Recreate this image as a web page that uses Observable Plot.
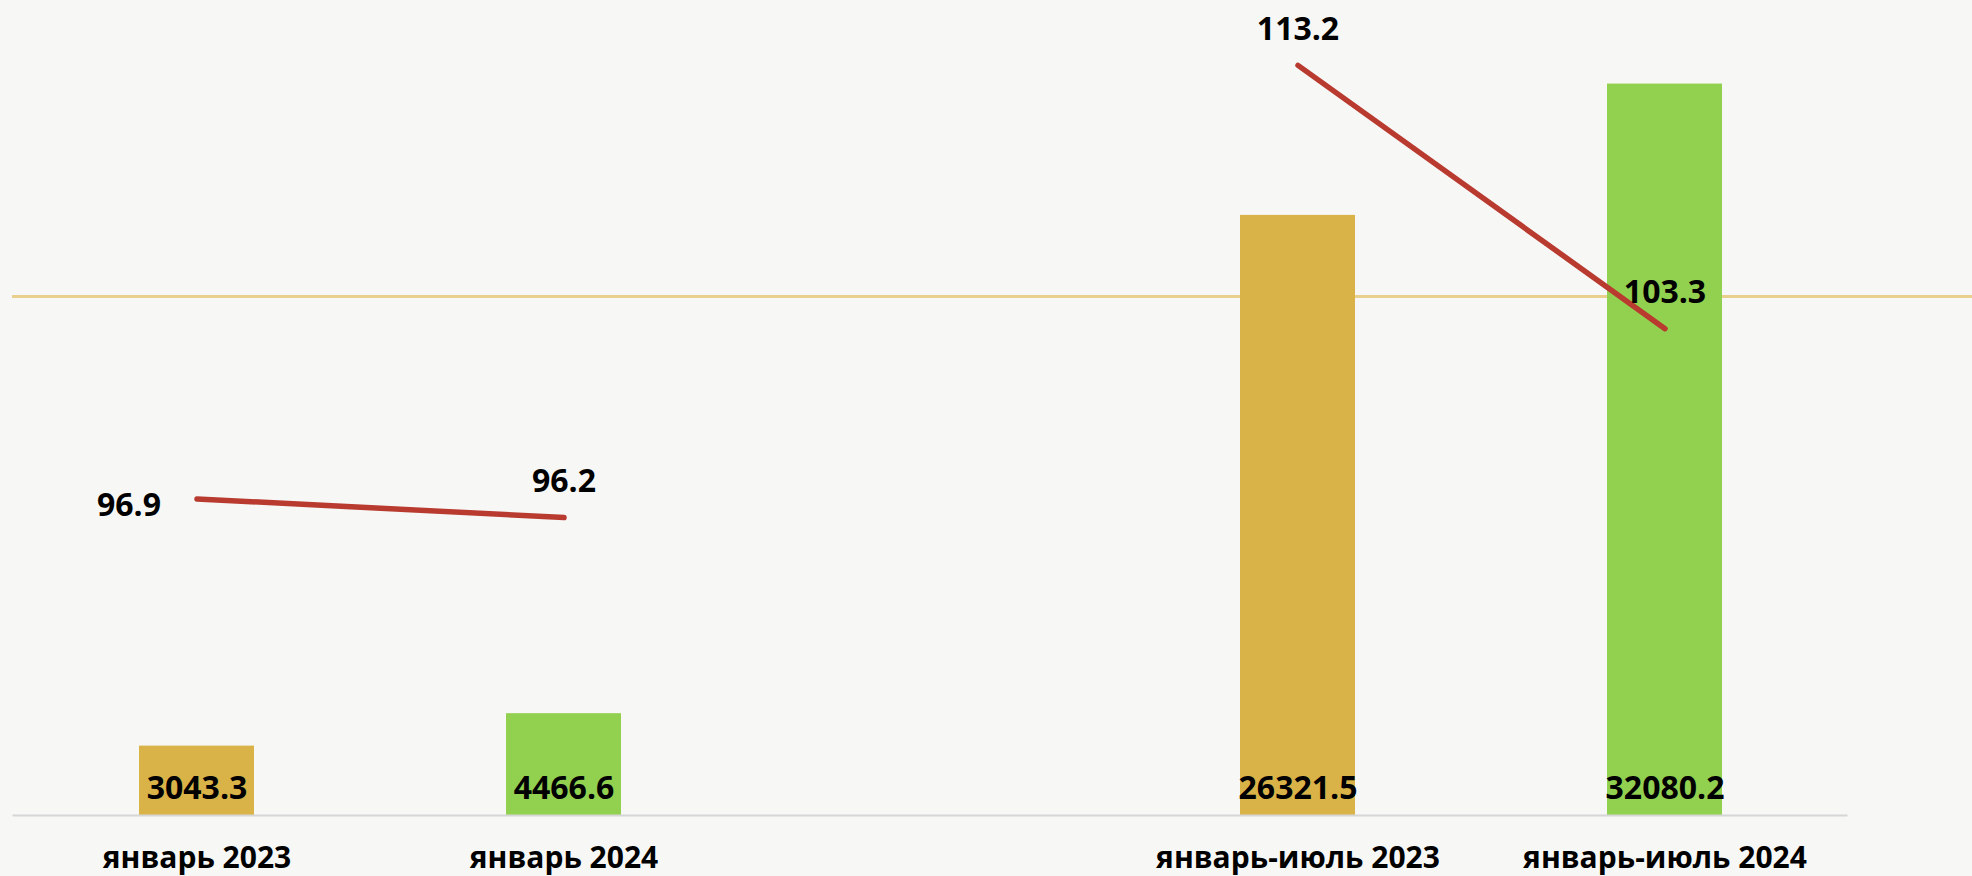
<!DOCTYPE html>
<html>
<head>
<meta charset="utf-8">
<script src="https://cdn.jsdelivr.net/npm/d3@7"></script>
<script src="https://cdn.jsdelivr.net/npm/@observablehq/plot@0.6"></script>
<style>
  html, body { margin: 0; padding: 0; background: #f7f7f6; }
  #wrap { position: relative; width: 1972px; height: 876px; overflow: hidden; }
  #deco { position: absolute; left: 12px; right: 0; top: 295px; height: 3px; background: #e9d08d; z-index: 0; }
  #chart { position: absolute; left: 0; top: 0; z-index: 1; }
</style>
</head>
<body>
<div id="wrap"><div id="deco"></div><div id="chart"></div></div>
<script>
// Categories (a blank spacer between the two groups)
const categories = ["январь 2023", "январь 2024", " ", "январь-июль 2023", "январь-июль 2024"];
const barCategories = ["январь 2023", "январь 2024", "январь-июль 2023", "январь-июль 2024"];
// Bar series (volume)
const barValues = [3043.3, 4466.6, 26321.5, 32080.2];
const barColors = ["#d9b348", "#92d050", "#d9b348", "#92d050"];
// Line series (index, %), on a secondary scale
const lineValues = [96.9, 96.2, 113.2, 103.3];
const lineGroups = ["jan", "jan", "janjul", "janjul"];
const lineLabelPos = ["left", "top", "top", "top"];

const primaryDomain = [0, 35000];
const secondaryDomain = [85, 115];
const toPrimary = v => (v - secondaryDomain[0]) / (secondaryDomain[1] - secondaryDomain[0]) * (primaryDomain[1] - primaryDomain[0]) + primaryDomain[0];

const bars = barCategories.map((c, i) => ({cat: c, value: barValues[i], color: barColors[i]}));
const lines = barCategories.map((c, i) => ({cat: c, value: lineValues[i], y: toPrimary(lineValues[i]), group: lineGroups[i], pos: lineLabelPos[i]}));

const font = "'Open Sans', 'DejaVu Sans', sans-serif";

const chart = Plot.plot({
  width: 1972,
  height: 876,
  marginTop: 17,
  marginBottom: 61,
  marginLeft: 12.5,
  marginRight: 124.5,
  style: {background: "transparent", fontFamily: font, color: "#000"},
  x: {domain: categories, padding: 0, axis: null},
  y: {domain: primaryDomain, axis: null},
  color: {type: "identity"},
  marks: [
    Plot.barY(bars, {x: "cat", y: "value", fill: "color", insetLeft: 126, insetRight: 126}),
    Plot.ruleY([0], {stroke: "#d6d6d6", strokeWidth: 2}),
    Plot.axisX({tickSize: 0, tickPadding: 31, fontSize: 30, fontWeight: "bold", fill: "#000", label: null, tickFormat: d => d.trim()}),
    Plot.line(lines, {x: "cat", y: "y", z: "group", stroke: "#b93b30", strokeWidth: 5.5, strokeLinecap: "round"}),
    Plot.text(bars, {x: "cat", y: 0, text: d => d.value.toFixed(1), dy: -27, fontSize: 32, fontWeight: "bold", fill: "#000"}),
    Plot.text(lines.filter(d => d.pos === "top"), {x: "cat", y: "y", text: d => d.value.toFixed(1), dy: -36, fontSize: 32, fontWeight: "bold", fill: "#000"}),
    Plot.text(lines.filter(d => d.pos === "left"), {x: "cat", y: "y", text: d => d.value.toFixed(1), dx: -68, dy: 7, fontSize: 32, fontWeight: "bold", fill: "#000"})
  ]
});
document.getElementById("chart").appendChild(chart);
</script>
</body>
</html>
